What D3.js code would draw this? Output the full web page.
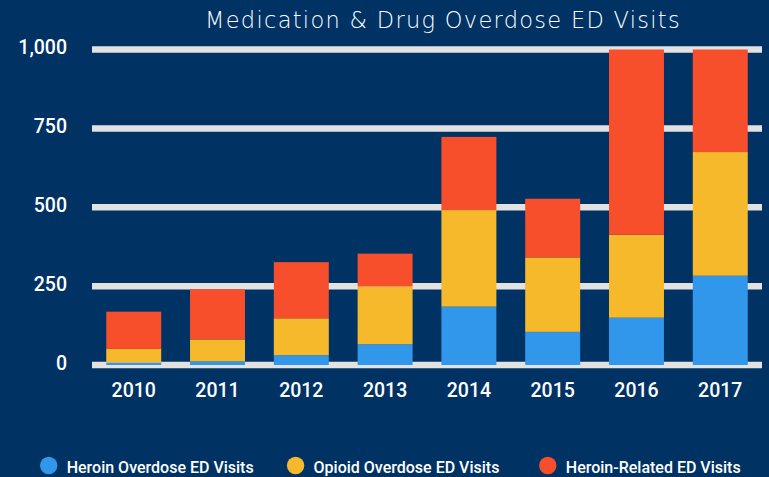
<!DOCTYPE html>
<html>
<head>
<meta charset="utf-8">
<script src="https://cdn.jsdelivr.net/npm/d3@7"></script>
<style>
html, body { margin: 0; padding: 0; background: #003264; }
svg { display: block; }
</style>
</head>
<body>
<svg id="chart" width="769" height="477"></svg>
<script>
const years = ["2010", "2011", "2012", "2013", "2014", "2015", "2016", "2017"];
const heroinOverdose = [8, 12, 31, 66, 185, 105, 150, 283];
const opioidOverdose = [43, 69, 117, 183, 306, 236, 263, 392];
const heroinRelated = [118, 159, 178, 104, 232, 186, 587, 325];
const seriesNames = ["Heroin Overdose ED Visits", "Opioid Overdose ED Visits", "Heroin-Related ED Visits"];
const seriesColors = ["#3197ea", "#f7b92c", "#f74f2c"];
const yTicks = [0, 250, 500, 750, 1000];
const title = "Medication & Drug Overdose ED Visits";

const rows = years.map((y, i) => ({
  year: y,
  s0: heroinOverdose[i],
  s1: opioidOverdose[i],
  s2: heroinRelated[i]
}));

const svg = d3.select("#chart");
const W = 769, H = 477;
svg.append("rect").attr("width", W).attr("height", H).attr("fill", "#003264");

const x = d3.scaleBand().domain(years).range([92, 762]).paddingInner(0.344).paddingOuter(0.17);
const y = d3.scaleLinear().domain([0, 1000]).range([365, 49.5]);

// gridlines
svg.append("g").selectAll("line").data(yTicks).join("line")
  .attr("x1", 92).attr("x2", 762)
  .attr("y1", d => y(d)).attr("y2", d => y(d))
  .attr("stroke", "#e2e2e2").attr("stroke-width", 6.5);

// y labels
svg.append("g").selectAll("text").data(yTicks).join("text")
  .attr("x", 67).attr("y", d => y(d) + 4.5)
  .attr("text-anchor", "end")
  .attr("font-family", "Roboto").attr("font-weight", 500).attr("font-size", 19.5)
  .attr("fill", "#ffffff")
  .text(d => d3.format(",")(d));

// stacked bars
const stack = d3.stack().keys(["s0", "s1", "s2"]);
const layers = stack(rows);
svg.append("g").selectAll("g").data(layers).join("g")
  .attr("fill", (d, i) => seriesColors[i])
  .selectAll("rect").data(d => d).join("rect")
  .attr("x", d => x(d.data.year))
  .attr("width", x.bandwidth())
  .attr("y", d => y(d[1]))
  .attr("height", d => y(d[0]) - y(d[1]));

// x labels
svg.append("g").selectAll("text").data(years).join("text")
  .attr("x", d => x(d) + x.bandwidth() / 2).attr("y", 397)
  .attr("text-anchor", "middle")
  .attr("font-family", "Roboto").attr("font-weight", 500).attr("font-size", 19.5)
  .attr("fill", "#ffffff")
  .text(d => d);

// title
svg.append("text").attr("x", 443).attr("y", 28)
  .attr("text-anchor", "middle")
  .attr("font-family", "DejaVu Sans").attr("font-weight", 200).attr("font-size", 22.5)
  .attr("letter-spacing", 1.3)
  .attr("fill", "#ffffff")
  .text(title);

// legend
const legendX = [48.7, 295.6, 547.8];
const lg = svg.append("g").selectAll("g").data(seriesNames).join("g")
  .attr("transform", (d, i) => `translate(${legendX[i]},465.5)`);
lg.append("circle").attr("r", 8.7).attr("fill", (d, i) => seriesColors[i]);
lg.append("text").attr("x", 18).attr("y", 7)
  .attr("font-family", "Roboto").attr("font-weight", 500).attr("font-size", 16)
  .attr("fill", "#ffffff")
  .text(d => d);
</script>
</body>
</html>
